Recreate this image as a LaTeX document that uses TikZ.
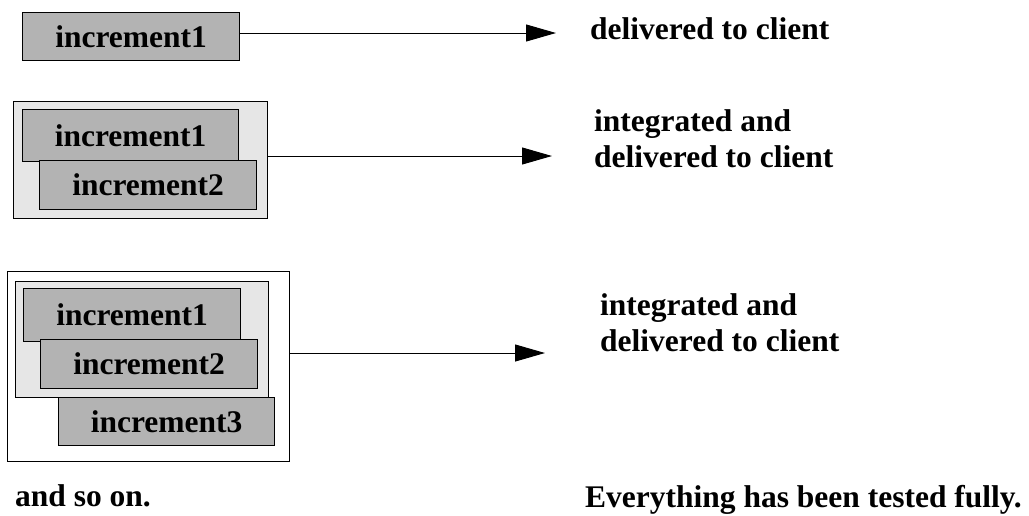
\documentclass[tikz,border=0pt]{standalone}
\usepackage{fontspec}
\setmainfont{Liberation Serif}
\usetikzlibrary{arrows.meta}
\definecolor{incgray}{RGB}{179,179,179}
\definecolor{grpgray}{RGB}{230,230,230}
\tikzset{
  inc/.style={draw=black, line width=1.2pt, fill=incgray, inner sep=0pt, anchor=north west,
    font=\fontsize{31.5}{35}\selectfont\bfseries},
  grp/.style={draw=black, line width=1.2pt, fill=grpgray, inner sep=0pt, anchor=north west},
  outer/.style={draw=black, line width=1.2pt, fill=white, inner sep=0pt, anchor=north west},
  lbl/.style={anchor=base west, inner sep=0pt, align=left,
    font=\fontsize{31.5}{35.5}\selectfont\bfseries},
  conn/.style={line width=1pt, -{Triangle[length=30pt,width=17pt]}}
}
\begin{document}
\begin{tikzpicture}[x=1pt,y=-1pt]
\useasboundingbox (0,0) rectangle (1029,515);
% group 1
\node[inc, minimum width=217pt, minimum height=48pt] (a1) at (22,12) {increment1};
\coordinate (t1) at (556,33);
\draw[conn] (a1.east |- t1) -- (t1);
\node[lbl] (l1) at (590,39) {delivered to client};
% group 2
\node[grp, minimum width=254pt, minimum height=117pt] (g2) at (13,101) {};
\node[inc, minimum width=216pt, minimum height=52pt] (b1) at (22,109) {increment1};
\node[inc, minimum width=217pt, minimum height=49pt] (b2) at (39,160) {increment2};
\coordinate (t2) at (552,156);
\draw[conn] (g2.east |- t2) -- (t2);
\node[lbl] (l2) at (594,167) {integrated and\\delivered to client};
% group 3
\node[outer, minimum width=282pt, minimum height=190pt] (o3) at (7,271) {};
\node[grp, minimum width=253pt, minimum height=116pt] (g3) at (15,281) {};
\node[inc, minimum width=217pt, minimum height=53pt] (c1) at (23,288) {increment1};
\node[inc, minimum width=217pt, minimum height=49pt] (c2) at (40,339) {increment2};
\node[inc, minimum width=216pt, minimum height=48pt] (c3) at (58,397) {increment3};
\coordinate (t3) at (545,353);
\draw[conn] (o3.east |- t3) -- (t3);
\node[lbl] (l3) at (600,351) {integrated and\\delivered to client};
% bottom texts
\node[lbl] (s1) at (15,506) {and so on.};
\node[lbl] (s2) at (585,507) {Everything has been tested fully.};
\end{tikzpicture}
\end{document}
